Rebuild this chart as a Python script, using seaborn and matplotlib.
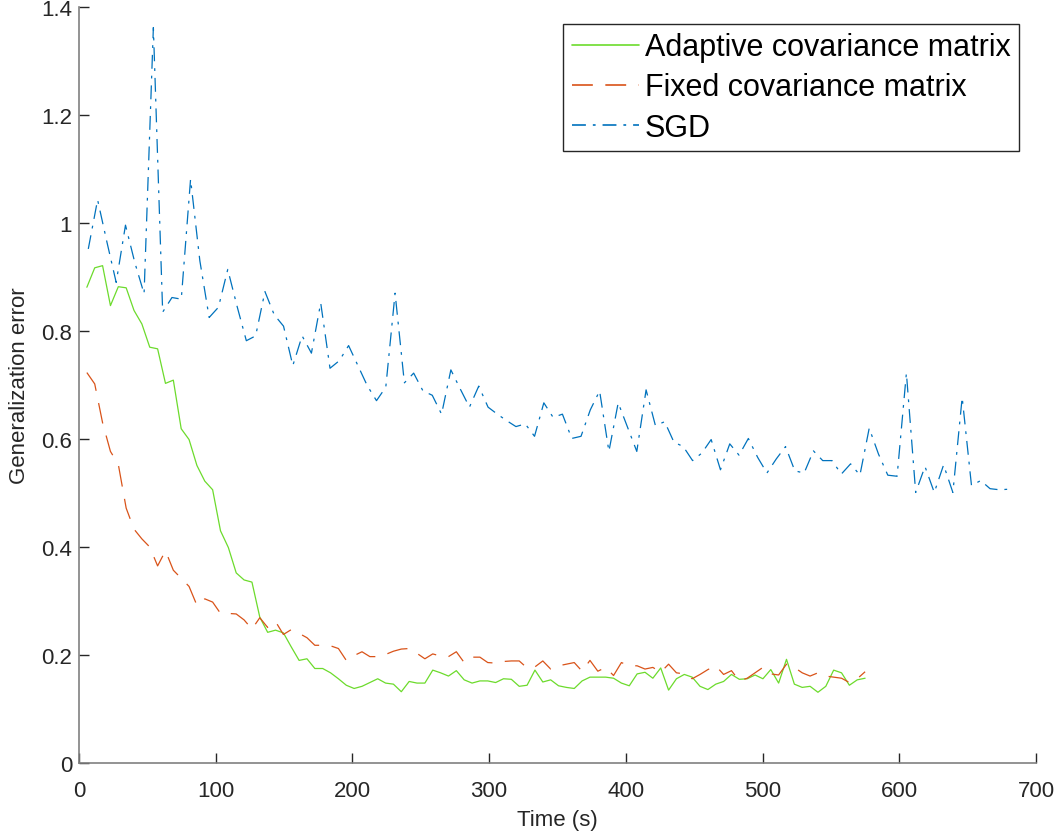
import numpy as np
import pandas as pd
import matplotlib
matplotlib.use("Agg")
import matplotlib.pyplot as plt
from matplotlib.ticker import FuncFormatter
import seaborn as sns

# ---- data ----
adaptive = [0.881, 0.917, 0.921, 0.847, 0.882, 0.880, 0.838, 0.813, 0.770, 0.767,
            0.703, 0.709, 0.619, 0.599, 0.551, 0.522, 0.506, 0.430, 0.399, 0.352,
            0.339, 0.335, 0.270, 0.242, 0.246, 0.241, 0.215, 0.190, 0.193, 0.175,
            0.175, 0.167, 0.156, 0.144, 0.138, 0.142, 0.149, 0.156, 0.148, 0.146,
            0.132, 0.151, 0.148, 0.148, 0.172, 0.167, 0.161, 0.171, 0.154, 0.148,
            0.152, 0.152, 0.149, 0.156, 0.155, 0.142, 0.144, 0.172, 0.150, 0.154,
            0.143, 0.140, 0.138, 0.152, 0.159, 0.159, 0.159, 0.157, 0.148, 0.143,
            0.165, 0.168, 0.157, 0.176, 0.135, 0.156, 0.164, 0.159, 0.142, 0.136,
            0.146, 0.151, 0.164, 0.155, 0.156, 0.163, 0.156, 0.173, 0.148, 0.192,
            0.146, 0.140, 0.142, 0.131, 0.142, 0.172, 0.167, 0.144, 0.154, 0.157]

fixed = [0.723, 0.702, 0.630, 0.577, 0.553, 0.472, 0.433, 0.415, 0.400, 0.365,
         0.393, 0.357, 0.342, 0.327, 0.292, 0.304, 0.298, 0.277, 0.277, 0.276,
         0.265, 0.248, 0.269, 0.251, 0.262, 0.238, 0.247, 0.240, 0.232, 0.218,
         0.218, 0.217, 0.212, 0.190, 0.199, 0.206, 0.197, 0.197, 0.201, 0.207,
         0.211, 0.212, 0.203, 0.193, 0.202, 0.198, 0.197, 0.206, 0.186, 0.196,
         0.196, 0.186, 0.185, 0.188, 0.189, 0.189, 0.176, 0.178, 0.189, 0.174,
         0.180, 0.183, 0.186, 0.170, 0.190, 0.170, 0.177, 0.162, 0.186, 0.180,
         0.180, 0.174, 0.177, 0.168, 0.183, 0.167, 0.165, 0.156, 0.164, 0.173,
         0.180, 0.164, 0.171, 0.152, 0.157, 0.167, 0.177, 0.165, 0.163, 0.183,
         0.177, 0.167, 0.161, 0.167, 0.161, 0.159, 0.157, 0.149, 0.156, 0.169]

sgd = [0.952, 1.043, 0.965, 0.890, 0.996, 0.927, 0.869, 1.362, 0.835, 0.862,
       0.859, 1.081, 0.930, 0.825, 0.844, 0.914, 0.846, 0.782, 0.791, 0.873,
       0.830, 0.809, 0.736, 0.791, 0.759, 0.852, 0.731, 0.745, 0.773, 0.736,
       0.699, 0.671, 0.696, 0.870, 0.704, 0.722, 0.689, 0.681, 0.646, 0.728,
       0.693, 0.659, 0.698, 0.659, 0.646, 0.634, 0.623, 0.628, 0.605, 0.667,
       0.640, 0.646, 0.601, 0.605, 0.654, 0.689, 0.577, 0.667, 0.622, 0.577,
       0.691, 0.625, 0.632, 0.594, 0.586, 0.560, 0.574, 0.599, 0.543, 0.591,
       0.570, 0.601, 0.566, 0.537, 0.563, 0.586, 0.541, 0.537, 0.578, 0.560,
       0.560, 0.535, 0.554, 0.533, 0.620, 0.572, 0.533, 0.531, 0.722, 0.501,
       0.549, 0.501, 0.552, 0.501, 0.677, 0.514, 0.523, 0.508, 0.506, 0.507]

# time stamps: one sample per iteration, constant time per iteration
t_step_cov = 5.75   # seconds per iteration (covariance-matrix methods)
t_step_sgd = 6.8    # seconds per iteration (SGD)
time_cov = t_step_cov * np.arange(1, len(adaptive) + 1)
time_sgd = t_step_sgd * np.arange(1, len(sgd) + 1)

labels = ["Adaptive covariance matrix", "Fixed covariance matrix", "SGD"]
xticks = [0, 100, 200, 300, 400, 500, 600, 700]
yticks = [0, 0.2, 0.4, 0.6, 0.8, 1.0, 1.2, 1.4]

df_a = pd.DataFrame({"Time (s)": time_cov, "err": adaptive})
df_f = pd.DataFrame({"Time (s)": time_cov, "err": fixed})
df_s = pd.DataFrame({"Time (s)": time_sgd, "err": sgd})

# ---- style ----
sns.set_theme(style="white")
plt.rcParams["font.family"] = ["Liberation Sans", "DejaVu Sans"]
plt.rcParams["lines.scale_dashes"] = False

fig = plt.figure(figsize=(10.61, 8.37), dpi=100)
ax = fig.add_axes([79 / 1061, 1 - 764 / 837, (1036 - 79) / 1061, (764 - 8) / 837])

lw = 0.9
sns.lineplot(data=df_a, x="Time (s)", y="err", ax=ax, color="#6CDB2C",
             linewidth=lw, label=labels[0])
sns.lineplot(data=df_f, x="Time (s)", y="err", ax=ax, color="#D95319",
             linewidth=lw, linestyle=(0, (15, 9)), label=labels[1])
sns.lineplot(data=df_s, x="Time (s)", y="err", ax=ax, color="#0072BD",
             linewidth=lw, linestyle=(0, (10, 5, 2, 5)), label=labels[2])

ax.set_xlim(0, 700)
ax.set_ylim(0, 1.4)
ax.set_xticks(xticks)
ax.set_yticks(yticks)
ax.yaxis.set_major_formatter(FuncFormatter(lambda v, p: "%g" % v))
ax.xaxis.set_major_formatter(FuncFormatter(lambda v, p: "%g" % v))

axis_col = "#262626"
for s in ["top", "right"]:
    ax.spines[s].set_visible(False)
for s in ["left", "bottom"]:
    ax.spines[s].set_color("#808080")
    ax.spines[s].set_linewidth(1.2)
ax.tick_params(direction="in", length=7, width=1.0, color=axis_col,
               labelsize=16, labelcolor=axis_col, left=True, bottom=True)
ax.tick_params(axis="y", pad=5)
ax.tick_params(axis="x", pad=12)

ax.set_xlabel("Time (s)", fontsize=16, color=axis_col, labelpad=6)
ax.set_ylabel("Generalization error", fontsize=16, color=axis_col, labelpad=8)

leg = ax.legend(loc="upper right", fontsize=22, frameon=True, fancybox=False,
                edgecolor=axis_col, framealpha=1, borderaxespad=0.55,
                handlelength=2.2, handletextpad=0.2, labelspacing=0.33,
                borderpad=0.28, labelcolor="black")
leg.get_frame().set_linewidth(1.0)
for line in leg.get_lines():
    line.set_linewidth(1.2)

fig.savefig("out.png", dpi=100)
